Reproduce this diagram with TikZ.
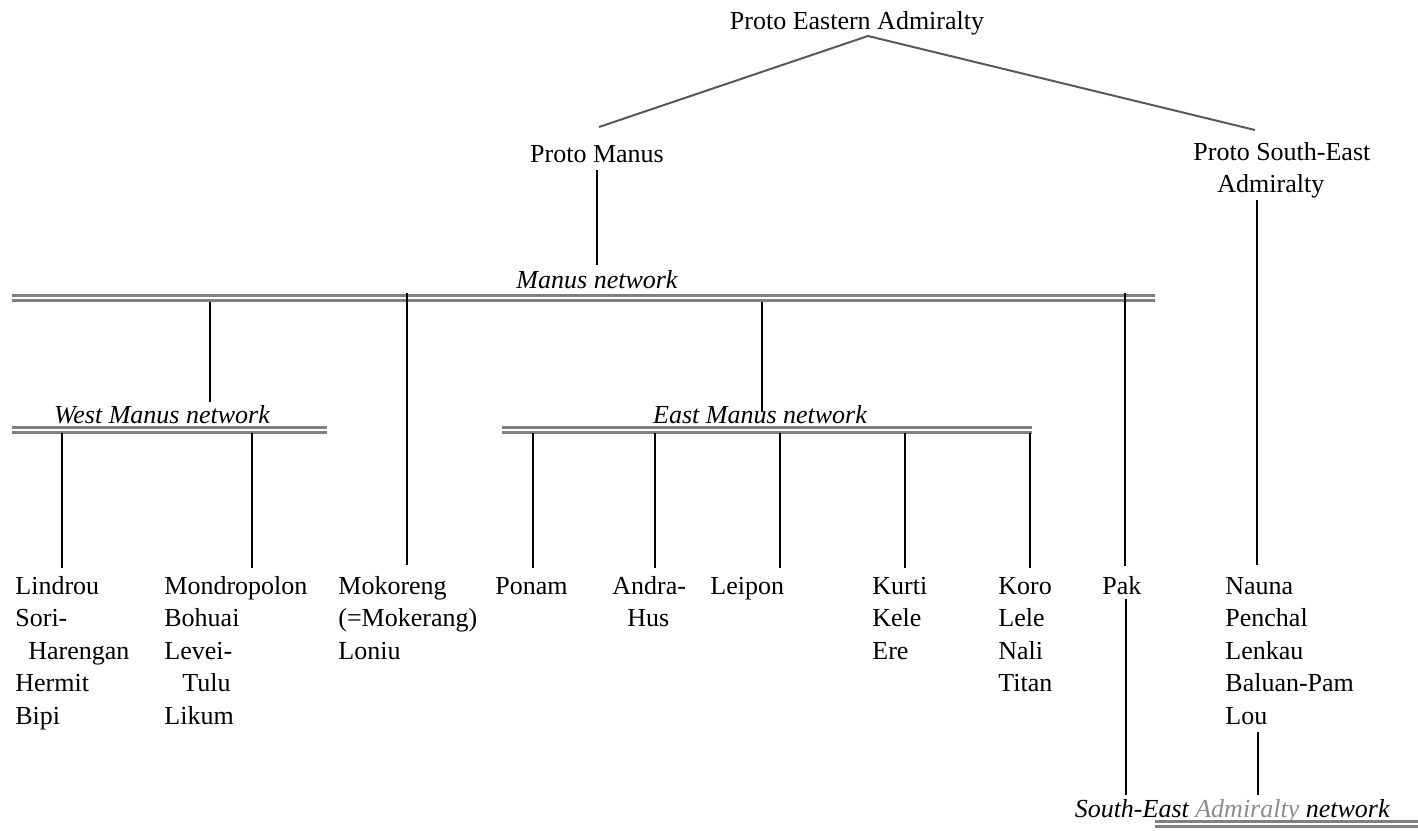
\documentclass[tikz,border=0pt]{standalone}
\usepackage{fontspec}
\setmainfont{Liberation Serif}
\begin{document}
\begin{tikzpicture}[x=0.5pt,y=-0.5pt,
  lbl/.style={inner sep=0pt, font=\fontsize{13}{16.25}\selectfont},
  grp/.style={lbl, align=left, anchor=north west},
  net/.style={inner sep=0pt, font=\fontsize{13}{16.25}\selectfont\itshape, anchor=base},
  bar/.style={draw=black!50, line width=1.4pt, double=white, double distance=0.9pt},
  stem/.style={draw=black, line width=1.1pt},
  slope/.style={draw=black!65, line width=1pt}]
\useasboundingbox[fill=white] (0,0) rectangle (1418,830);

% --- proto-languages
\node[lbl, anchor=base] (pea) at (857,29) {Proto Eastern Admiralty};
\node[lbl, anchor=base] (pm) at (597,162) {Proto Manus};
\node[grp] (psea) at (1193,137) {\strut Proto South-East\\\hspace*{12pt}Admiralty};

\coordinate (apex) at (868,36);
\coordinate (pmtop) at (599,127);
\coordinate (pseatop) at (1255,130);
\draw[slope] (pmtop) -- (apex) -- (pseatop);

% --- network labels
\node[net] (mnet) at (597,288) {Manus network};
\node[net] (wnet) at (162,423) {West Manus network};
\node[net] (enet) at (760,423) {East Manus network};
\node[net, anchor=base east] (senet) at (1390,817) {South-East \textcolor{black!45}{Admiralty} network};

% --- network bars
\coordinate (mbarL) at (12,298);   \coordinate (mbarR) at (1155,298);
\coordinate (wbarL) at (12,430);   \coordinate (wbarR) at (327,430);
\coordinate (ebarL) at (502,430);  \coordinate (ebarR) at (1032,430);
\coordinate (sbarL) at (1155,824); \coordinate (sbarR) at (1418,824);
\draw[bar] (mbarL) -- (mbarR);
\draw[bar] (wbarL) -- (wbarR);
\draw[bar] (ebarL) -- (ebarR);
\draw[bar] (sbarL) -- (sbarR);

% --- languages
\node[grp] (lin) at (15,571)  {\strut Lindrou\\Sori-\\\hspace*{6.5pt}Harengan\\Hermit\\Bipi};
\node[grp] (mon) at (164,571) {\strut Mondropolon\\Bohuai\\Levei-\\\hspace*{9pt}Tulu\\Likum};
\node[grp] (mok) at (338,571) {\strut Mokoreng\\(=Mokerang)\\Loniu};
\node[grp] (pon) at (495,571) {\strut Ponam};
\node[grp] (and) at (612,571) {\strut Andra-\\\hspace*{7.5pt}Hus};
\node[grp] (lei) at (710,571) {\strut Leipon};
\node[grp] (kur) at (872,571) {\strut Kurti\\Kele\\Ere};
\node[grp] (kor) at (998,571) {\strut Koro\\Lele\\Nali\\Titan};
\node[grp] (pak) at (1102,571) {\strut Pak};
\node[grp] (nau) at (1225,571) {\strut Nauna\\Penchal\\Lenkau\\Baluan-Pam\\Lou};

% --- stems
\coordinate (pmA) at (597,170);  \coordinate (pmB) at (597,265);
\draw[stem] (pmA) -- (pmB);
\coordinate (wA) at (210,302);   \coordinate (wB) at (210,402);
\coordinate (mkA) at (407,293);  \coordinate (mkB) at (407,565);
\coordinate (eA) at (762,302);   \coordinate (eB) at (762,412);
\coordinate (pkA) at (1125,293); \coordinate (pkB) at (1125,566);
\coordinate (psA) at (1257,200); \coordinate (psB) at (1257,565);
\coordinate (pkC) at (1126,599); \coordinate (pkD) at (1126,795);
\coordinate (louA) at (1258,732); \coordinate (louB) at (1258,795);
\draw[stem] (wA) -- (wB);
\draw[stem] (mkA) -- (mkB);
\draw[stem] (eA) -- (eB);
\draw[stem] (pkA) -- (pkB);
\draw[stem] (psA) -- (psB);
\draw[stem] (pkC) -- (pkD);
\draw[stem] (louA) -- (louB);

% west and east subgroups
\foreach \x in {62,252} {
  \coordinate (wd\x) at (\x,433);
  \draw[stem] (wd\x) -- (\x,568);
}
\foreach \x in {533,655,780,905,1030} {
  \coordinate (ed\x) at (\x,433);
  \draw[stem] (ed\x) -- (\x,568);
}
\end{tikzpicture}
\end{document}
